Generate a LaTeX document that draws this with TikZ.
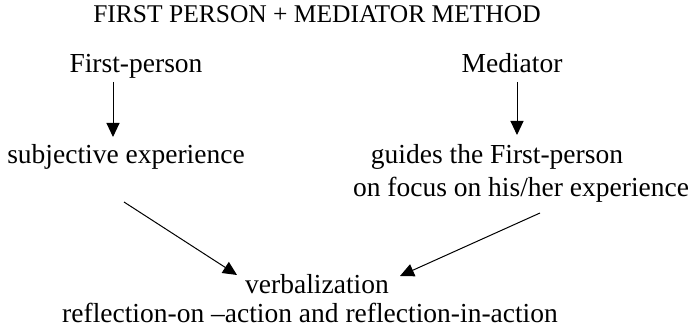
\documentclass[tikz,border=0pt]{standalone}
\usepackage{fontspec}
\setmainfont{Liberation Serif}
\usetikzlibrary{arrows.meta}
\begin{document}
\begin{tikzpicture}[x=1pt,y=-1pt,
  lbl/.style={anchor=base,inner sep=0pt,font=\fontsize{27.5}{32}\selectfont},
  ttl/.style={anchor=base,inner sep=0pt,font=\fontsize{25.5}{30}\selectfont},
  arr/.style={draw,line width=1pt,-{Triangle[length=14pt,width=13pt]}}]
\useasboundingbox[fill=white] (0,0) rectangle (692,331);
\node[ttl] (title) at (317,23) {FIRST PERSON + MEDIATOR METHOD};
\node[lbl] (fp) at (136,73) {First-person};
\node[lbl] (med) at (512,73) {Mediator};
\node[lbl] (subj) at (126,163) {subjective experience};
\node[lbl] (guide) at (497,163) {guides the First-person};
\node[lbl] (focus) at (521,196) {on focus on his/her experience};
\node[lbl] (verb) at (317,293) {verbalization};
\node[lbl] (refl) at (310,322) {reflection-on –action and reflection-in-action};
\coordinate (a1s) at (113,82);
\coordinate (a1e) at (113,137);
\coordinate (a2s) at (517,82);
\coordinate (a2e) at (517,135);
\coordinate (d1s) at (124,202);
\coordinate (d1e) at (237,275);
\coordinate (d2s) at (540,213);
\coordinate (d2e) at (400,276);
\draw[arr] (a1s) -- (a1e);
\draw[arr] (a2s) -- (a2e);
\draw[arr] (d1s) -- (d1e);
\draw[arr] (d2s) -- (d2e);
\end{tikzpicture}
\end{document}
